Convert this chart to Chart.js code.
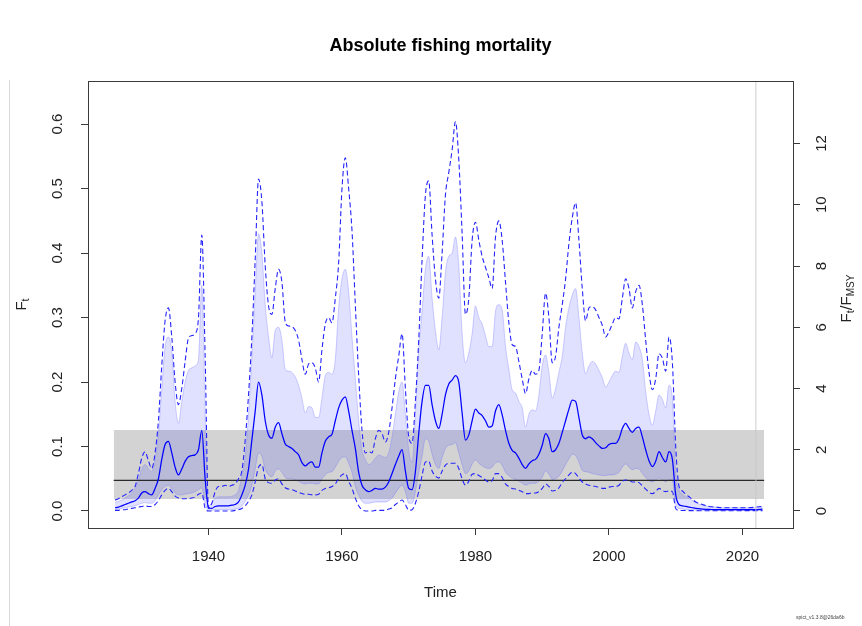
<!DOCTYPE html>
<html>
<head>
<meta charset="utf-8">
<script src="https://cdn.jsdelivr.net/npm/chart.js@4.4.0/dist/chart.umd.min.js"></script>
<style>
  html, body { margin: 0; padding: 0; background: #ffffff; }
  #wrap { position: relative; width: 862px; height: 626px; }
  canvas { display: block; }
</style>
</head>
<body>
<div id="wrap"><canvas id="c" width="862" height="626"></canvas></div>
<script>
// Time grid (half-yearly to 2013, yearly afterwards)
const years = [
  1926,1926.5,1927,1927.5,1928,1928.5,1929,1929.5,1930,1930.5,
  1931,1931.5,1932,1932.5,1933,1933.5,1934,1934.5,1935,1935.5,
  1936,1936.5,1937,1937.5,1938,1938.5,1939,1939.5,1940,1940.5,
  1941,1941.5,1942,1942.5,1943,1943.5,1944,1944.5,1945,1945.5,
  1946,1946.5,1947,1947.5,1948,1948.5,1949,1949.5,1950,1950.5,
  1951,1951.5,1952,1952.5,1953,1953.5,1954,1954.5,1955,1955.5,
  1956,1956.5,1957,1957.5,1958,1958.5,1959,1959.5,1960,1960.5,
  1961,1961.5,1962,1962.5,1963,1963.5,1964,1964.5,1965,1965.5,
  1966,1966.5,1967,1967.5,1968,1968.5,1969,1969.5,1970,1970.5,
  1971,1971.5,1972,1972.5,1973,1973.5,1974,1974.5,1975,1975.5,
  1976,1976.5,1977,1977.5,1978,1978.5,1979,1979.5,1980,1980.5,
  1981,1981.5,1982,1982.5,1983,1983.5,1984,1984.5,1985,1985.5,
  1986,1986.5,1987,1987.5,1988,1988.5,1989,1989.5,1990,1990.5,
  1991,1991.5,1992,1992.5,1993,1993.5,1994,1994.5,1995,1995.5,
  1996,1996.5,1997,1997.5,1998,1998.5,1999,1999.5,2000,2000.5,
  2001,2001.5,2002,2002.5,2003,2003.5,2004,2004.5,2005,2005.5,
  2006,2006.5,2007,2007.5,2008,2008.5,2009,2009.5,2010,2010.5,
  2011,2011.5,2012,2012.5,2013,
  2014,2015,2016,2017,2018,2019,2020,2021,2022,2023
];

// Estimated fishing mortality F_t (median)
const fMedian = [
  .005,.006,.008,.010,.012,.014,.016,.020,.028,.030,
  .027,.025,.035,.050,.080,.103,.108,.090,.068,.056,
  .065,.077,.084,.086,.087,.095,.125,.050,.005,.004,
  .007,.008,.008,.008,.008,.009,.010,.014,.025,.040,
  .065,.110,.155,.200,.180,.140,.118,.113,.130,.137,
  .120,.104,.100,.097,.092,.087,.075,.070,.074,.076,
  .068,.068,.090,.108,.115,.119,.140,.160,.172,.177,
  .155,.125,.097,.060,.040,.033,.030,.032,.035,.034,
  .034,.037,.045,.058,.072,.085,.095,.062,.035,.033,
  .061,.120,.170,.195,.195,.165,.140,.128,.150,.180,
  .197,.203,.210,.200,.152,.110,.118,.140,.158,.152,
  .148,.140,.130,.132,.155,.165,.149,.125,.105,.094,
  .090,.082,.072,.066,.073,.078,.080,.088,.102,.120,
  .112,.092,.095,.105,.122,.140,.158,.172,.170,.145,
  .118,.112,.115,.112,.106,.101,.097,.098,.103,.105,
  .105,.112,.128,.136,.128,.122,.128,.130,.115,.095,
  .078,.069,.077,.092,.083,.076,.092,.080,.025,.010,
  .008,.007,.006,.005,.004,
  .003,.0025,.002,.002,.002,.002,.002,.002,.002,.003
];

// Shaded interval, upper bound
const bandUpper = [
  .013,.015,.017,.020,.024,.028,.035,.048,.065,.072,
  .066,.061,.080,.120,.190,.255,.270,.247,.170,.136,
  .170,.200,.218,.222,.225,.235,.350,.150,.008,.012,
  .020,.022,.022,.022,.022,.023,.025,.032,.055,.085,
  .150,.240,.340,.430,.400,.320,.270,.238,.280,.285,
  .265,.220,.217,.215,.208,.195,.175,.152,.162,.160,
  .145,.145,.175,.210,.215,.212,.235,.315,.360,.375,
  .340,.270,.205,.140,.095,.080,.072,.075,.082,.087,
  .085,.083,.090,.115,.150,.185,.200,.150,.095,.075,
  .150,.250,.310,.375,.395,.330,.280,.250,.300,.370,
  .395,.400,.425,.380,.275,.230,.245,.275,.318,.300,
  .290,.272,.255,.255,.310,.320,.312,.255,.220,.188,
  .183,.170,.160,.130,.150,.157,.155,.180,.225,.242,
  .215,.175,.190,.215,.240,.285,.315,.335,.345,.300,
  .245,.213,.225,.232,.228,.218,.207,.192,.200,.210,
  .217,.215,.240,.260,.245,.235,.262,.255,.235,.185,
  .150,.133,.155,.180,.173,.160,.195,.175,.060,.032,
  .026,.022,.019,.016,.013,
  .009,.007,.006,.005,.005,.005,.005,.005,.005,.006
];

// Shaded interval, lower bound
const bandLower = [
  .002,.003,.004,.005,.006,.007,.008,.010,.012,.013,
  .012,.012,.016,.025,.033,.038,.040,.035,.028,.025,
  .025,.026,.027,.028,.030,.033,.036,.012,.001,.001,
  .002,.002,.002,.002,.002,.002,.003,.004,.008,.015,
  .025,.040,.065,.090,.085,.065,.056,.053,.062,.065,
  .060,.052,.050,.050,.048,.046,.043,.042,.043,.043,
  .042,.042,.050,.056,.060,.061,.068,.077,.083,.084,
  .074,.060,.038,.025,.015,.012,.012,.013,.014,.014,
  .014,.014,.016,.020,.028,.035,.040,.030,.012,.012,
  .030,.060,.085,.112,.108,.088,.072,.066,.083,.097,
  .102,.103,.106,.090,.072,.058,.062,.073,.079,.074,
  .070,.067,.066,.068,.075,.076,.071,.060,.055,.051,
  .049,.046,.043,.040,.042,.043,.043,.046,.052,.062,
  .057,.049,.050,.054,.062,.072,.081,.088,.086,.076,
  .063,.061,.060,.058,.057,.056,.055,.055,.056,.056,
  .057,.060,.068,.073,.068,.064,.066,.065,.058,.052,
  .047,.045,.048,.051,.048,.045,.049,.047,.010,.004,
  .003,.002,.002,.0017,.0014,
  .001,.0009,.0008,.0008,.0008,.0008,.0008,.0008,.0009,.001
];

// Dashed interval, upper bound
const ciUpper = [
  .017,.019,.022,.025,.028,.032,.038,.058,.082,.092,
  .078,.066,.090,.140,.225,.295,.315,.270,.200,.165,
  .190,.232,.268,.272,.275,.300,.428,.240,.004,.012,
  .030,.038,.038,.040,.038,.040,.042,.050,.062,.110,
  .180,.270,.390,.515,.480,.380,.318,.305,.345,.375,
  .355,.293,.287,.286,.280,.265,.235,.212,.228,.230,
  .222,.200,.250,.290,.300,.292,.330,.385,.500,.548,
  .500,.435,.320,.210,.125,.090,.092,.090,.112,.125,
  .120,.107,.122,.160,.205,.240,.275,.190,.115,.105,
  .170,.265,.390,.490,.512,.428,.360,.330,.400,.490,
  .525,.560,.604,.545,.430,.305,.330,.420,.448,.420,
  .395,.378,.362,.345,.425,.450,.420,.355,.292,.258,
  .255,.232,.205,.182,.205,.218,.212,.218,.275,.338,
  .300,.230,.240,.285,.320,.360,.415,.455,.478,.420,
  .345,.295,.315,.317,.312,.300,.288,.270,.278,.290,
  .300,.298,.330,.360,.345,.315,.340,.350,.320,.265,
  .215,.188,.205,.244,.237,.217,.270,.230,.100,.038,
  .031,.026,.022,.018,.014,
  .010,.007,.006,.005,.005,.005,.005,.005,.006,.007
];

// Dashed interval, lower bound
const ciLower = [
  .001,.001,.002,.002,.003,.004,.005,.006,.007,.008,
  .007,.007,.010,.016,.025,.032,.035,.030,.023,.020,
  .019,.019,.019,.020,.022,.026,.028,.004,.000,.000,
  .000,.000,.000,.000,.000,.000,.001,.002,.004,.008,
  .015,.025,.045,.068,.072,.050,.044,.043,.048,.050,
  .042,.036,.034,.033,.031,.029,.027,.026,.026,.025,
  .025,.026,.032,.035,.036,.038,.042,.050,.056,.058,
  .046,.035,.020,.008,.002,.000,.000,.000,.001,.001,
  .001,.001,.003,.005,.010,.014,.017,.010,.001,.002,
  .012,.030,.055,.076,.077,.062,.054,.051,.062,.071,
  .074,.074,.074,.066,.050,.040,.046,.057,.058,.055,
  .052,.048,.045,.047,.058,.058,.052,.042,.038,.035,
  .034,.032,.030,.027,.027,.028,.028,.030,.035,.042,
  .038,.031,.032,.036,.044,.050,.056,.060,.058,.051,
  .045,.042,.040,.039,.038,.037,.035,.035,.037,.038,
  .038,.040,.046,.048,.047,.045,.045,.044,.039,.034,
  .029,.027,.030,.035,.032,.030,.031,.030,.004,.001,
  .0008,.0007,.0006,.0005,.0005,
  .0004,.0004,.0004,.0004,.0004,.0004,.0005,.0005,.0005,.0006
];

// Reference point F_MSY with its interval and time span
const fmsy = 0.0475;
const fmsyCI = [0.0186, 0.1256];
const fmsySpan = [1925.8, 2023.25];
const lastDataYear = 2022;

// Axis ticks
const xTicks = [1940, 1960, 1980, 2000, 2020];
const fTicks = [0, 0.1, 0.2, 0.3, 0.4, 0.5, 0.6];
const relTicks = [0, 2, 4, 6, 8, 10, 12];
const xRange = [1921.95, 2027.57];
const fRange = [-0.0264, 0.667];

const FONT = '"Liberation Sans", Arial, Helvetica, sans-serif';
const TXT = '#222222';

const pts = arr => years.map((t, i) => ({ x: t, y: arr[i] }));

// Draw a run of text pieces (with optional subscripts) centred on (cx, cy)
function richText(ctx, parts, cx, cy, angle) {
  ctx.save();
  ctx.translate(cx, cy);
  ctx.rotate(angle);
  let w = 0;
  parts.forEach(p => { ctx.font = p.font; p.w = ctx.measureText(p.t).width; w += p.w; });
  let x = -w / 2;
  ctx.textBaseline = 'middle';
  ctx.textAlign = 'left';
  ctx.fillStyle = TXT;
  parts.forEach(p => { ctx.font = p.font; ctx.fillText(p.t, x, p.dy || 0); x += p.w; });
  ctx.restore();
}

const decorations = {
  id: 'decorations',
  beforeDatasetsDraw(chart) {
    const ctx = chart.ctx;
    ctx.save();
    ctx.strokeStyle = '#d9d9d9';
    ctx.lineWidth = 1;
    ctx.beginPath();
    ctx.moveTo(9.5, 80);
    ctx.lineTo(9.5, 626);
    ctx.stroke();
    ctx.restore();
  },
  afterDatasetsDraw(chart) {
    const ctx = chart.ctx;
    const a = chart.chartArea;
    const sx = chart.scales.x, sy = chart.scales.y, sr = chart.scales.y2;
    ctx.save();
    // last data year marker
    const xl = sx.getPixelForValue(lastDataYear);
    ctx.strokeStyle = 'rgba(200,200,200,0.6)';
    ctx.lineWidth = 1.5;
    ctx.beginPath();
    ctx.moveTo(xl, a.top);
    ctx.lineTo(xl, a.bottom);
    ctx.stroke();
    // plot frame
    ctx.strokeStyle = '#3a3a3a';
    ctx.lineWidth = 1;
    ctx.strokeRect(Math.round(a.left) + 0.5, Math.round(a.top) + 0.5,
                   Math.round(a.right - a.left), Math.round(a.bottom - a.top));
    // title
    ctx.fillStyle = '#000';
    ctx.font = 'bold 18px ' + FONT;
    ctx.textAlign = 'center';
    ctx.textBaseline = 'middle';
    ctx.fillText('Absolute fishing mortality', (a.left + a.right) / 2, 46);
    // x tick labels and title
    ctx.fillStyle = TXT;
    ctx.font = '15px ' + FONT;
    xTicks.forEach(v => ctx.fillText(String(v), sx.getPixelForValue(v), 557));
    ctx.fillText('Time', (a.left + a.right) / 2, 593);
    // rotated y tick labels
    fTicks.forEach(v => {
      richText(ctx, [{ t: v.toFixed(1), font: '15px ' + FONT }], 58, sy.getPixelForValue(v), -Math.PI / 2);
    });
    relTicks.forEach(v => {
      richText(ctx, [{ t: String(v), font: '15px ' + FONT }], 822, sr.getPixelForValue(v), -Math.PI / 2);
    });
    const midY = (a.top + a.bottom) / 2;
    richText(ctx, [
      { t: 'F', font: '15px ' + FONT },
      { t: 't', font: '11px ' + FONT, dy: 4 }
    ], 22, midY, -Math.PI / 2);
    richText(ctx, [
      { t: 'F', font: '15px ' + FONT },
      { t: 't', font: '11px ' + FONT, dy: 4 },
      { t: '/', font: '17px ' + FONT },
      { t: 'F', font: '15px ' + FONT },
      { t: 'MSY', font: '10px ' + FONT, dy: 4 }
    ], 847, midY - 6, -Math.PI / 2);
    // version stamp
    ctx.font = '5px ' + FONT;
    ctx.fillStyle = '#444';
    ctx.textAlign = 'left';
    ctx.fillText('spict_v1.3.8@26da6b', 796, 618);
    ctx.restore();
  }
};

const tickGrid = { drawOnChartArea: false, drawTicks: true, tickLength: 7, color: '#3a3a3a', lineWidth: 1 };

new Chart(document.getElementById('c'), {
  type: 'line',
  data: {
    datasets: [
      { data: pts(fMedian), borderColor: '#0000ff', borderWidth: 1.25, fill: false },
      { data: pts(ciUpper), borderColor: '#2424ff', borderWidth: 1.1, borderDash: [5, 3], fill: false },
      { data: pts(ciLower), borderColor: '#2424ff', borderWidth: 1.1, borderDash: [5, 3], fill: false },
      { data: fmsySpan.map(t => ({ x: t, y: fmsy })), borderColor: '#2a2a2a', borderWidth: 1.3,
        cubicInterpolationMode: 'default', tension: 0, fill: false },
      { data: pts(bandUpper), borderColor: 'rgba(120,120,255,0.35)', borderWidth: 1,
        backgroundColor: 'rgba(0,0,255,0.12)', fill: '+1' },
      { data: pts(bandLower), borderColor: 'rgba(120,120,255,0.35)', borderWidth: 1, fill: false },
      { data: fmsySpan.map(t => ({ x: t, y: fmsyCI[1] })), borderWidth: 0, borderColor: 'rgba(0,0,0,0)',
        backgroundColor: '#d3d3d3', fill: '+1', tension: 0, cubicInterpolationMode: 'default' },
      { data: fmsySpan.map(t => ({ x: t, y: fmsyCI[0] })), borderWidth: 0, borderColor: 'rgba(0,0,0,0)',
        fill: false, tension: 0, cubicInterpolationMode: 'default' }
    ]
  },
  options: {
    responsive: false,
    animation: false,
    devicePixelRatio: 1,
    layout: { padding: { top: 81, left: 0, right: 0, bottom: 0 } },
    elements: {
      point: { radius: 0, hoverRadius: 0 },
      line: { cubicInterpolationMode: 'monotone', borderCapStyle: 'butt', borderJoinStyle: 'round' }
    },
    plugins: {
      legend: { display: false },
      title: { display: false },
      tooltip: { enabled: false },
      filler: { propagate: false }
    },
    events: [],
    scales: {
      x: {
        type: 'linear', position: 'bottom', min: xRange[0], max: xRange[1],
        afterBuildTicks: s => { s.ticks = xTicks.map(v => ({ value: v })); },
        afterFit: s => { s.height = 98; },
        ticks: { display: false },
        grid: tickGrid,
        border: { display: false }
      },
      y: {
        type: 'linear', position: 'left', min: fRange[0], max: fRange[1],
        afterBuildTicks: s => { s.ticks = fTicks.map(v => ({ value: v })); },
        afterFit: s => { s.width = 88; },
        ticks: { display: false },
        grid: tickGrid,
        border: { display: false }
      },
      y2: {
        type: 'linear', position: 'right', min: fRange[0] / fmsy, max: fRange[1] / fmsy,
        afterBuildTicks: s => { s.ticks = relTicks.map(v => ({ value: v })); },
        afterFit: s => { s.width = 69; },
        ticks: { display: false },
        grid: tickGrid,
        border: { display: false }
      }
    }
  },
  plugins: [decorations]
});
</script>
</body>
</html>
